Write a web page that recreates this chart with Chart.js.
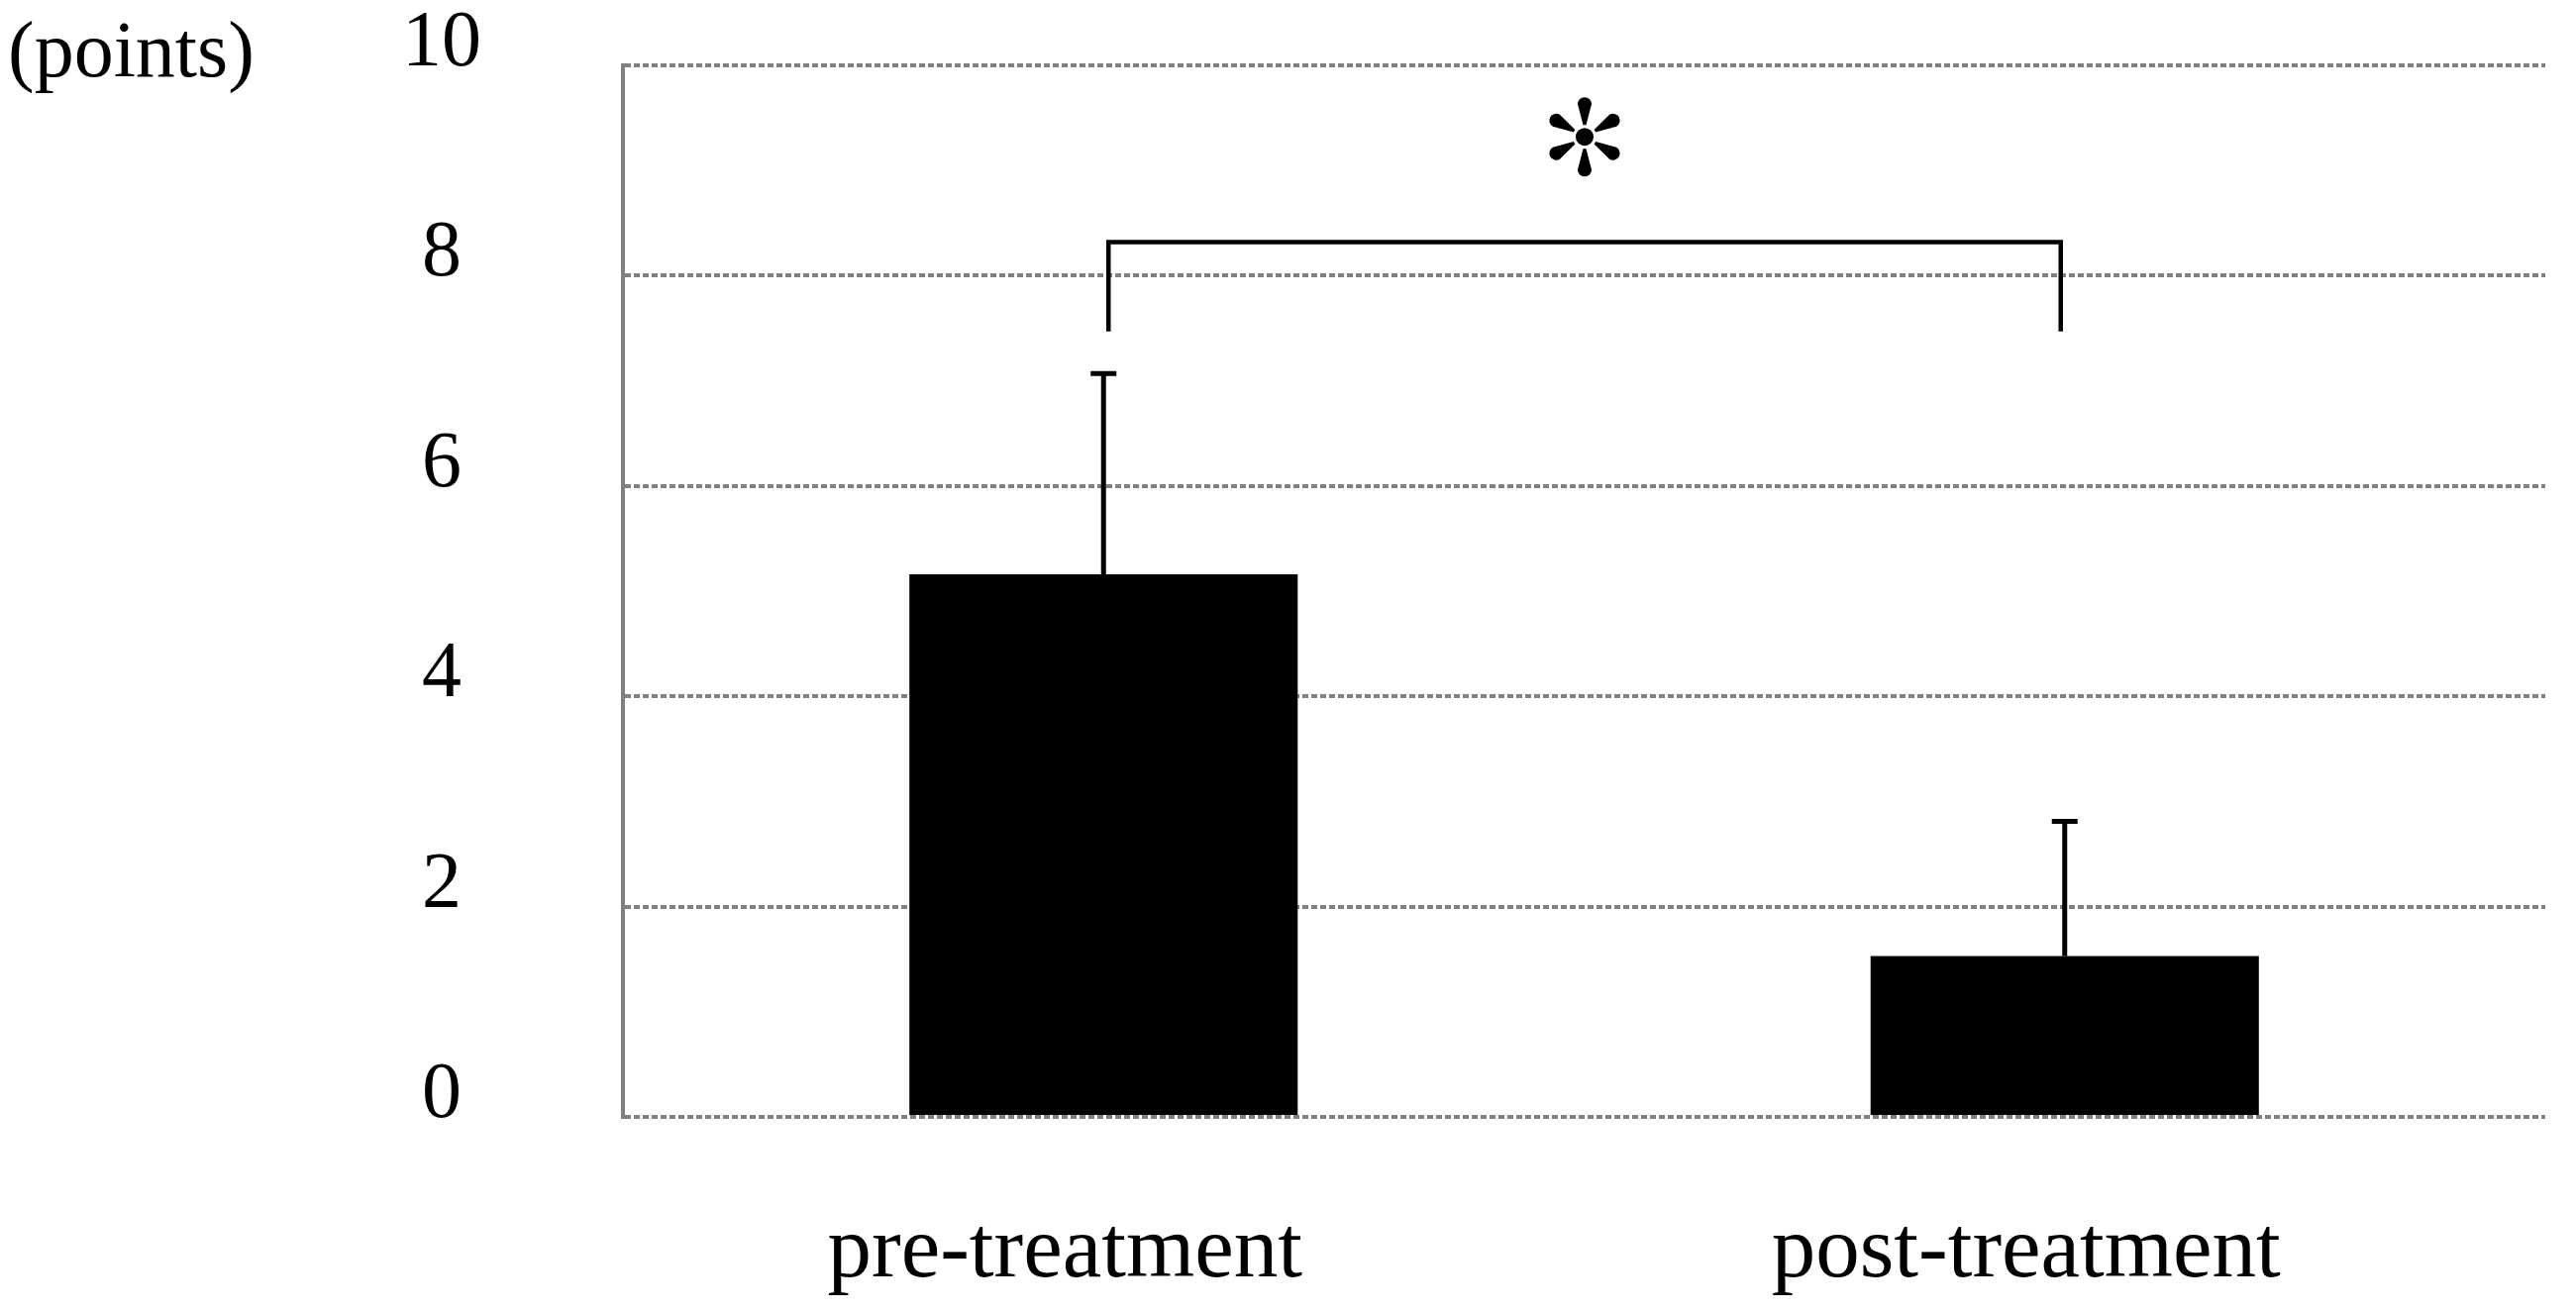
<!DOCTYPE html>
<html lang="en">
<head>
    <meta charset="UTF-8" />
    <title>pre / post treatment</title>
    <script src="https://cdn.jsdelivr.net/npm/chart.js"></script>
    <style>
        html, body { margin: 0; padding: 0; background: #fff; }
        #wrap { width: 2601px; height: 1325px; }
    </style>
</head>
<body>
    <div id="wrap"><canvas id="grafico" width="2601" height="1325"></canvas></div>

    <script>
        // data
        const categories = ['pre-treatment', 'post-treatment'];
        const means = [5.16, 1.53];
        const sds = [1.91, 1.28];
        const yTicks = [0, 2, 4, 6, 8, 10];
        const unitLabel = '(points)';
        const bracketTop = 8.32;
        const bracketLegEnd = 7.47;
        const starLevel = 9.32;

        const serif = '"Liberation Serif", "Times New Roman", serif';

        // six teardrop petals + dot, the significance mark
        function drawStar(ctx, cx, cy) {
            ctx.save();
            ctx.translate(cx, cy);
            ctx.fillStyle = '#000';
            for (let k = 0; k < 6; k++) {
                ctx.save();
                ctx.rotate(k * Math.PI / 3);
                ctx.beginPath();
                ctx.moveTo(-1.5, -12);
                ctx.lineTo(-7, -33);
                ctx.arc(0, -33, 7, Math.PI, 2 * Math.PI);
                ctx.lineTo(1.5, -12);
                ctx.closePath();
                ctx.fill();
                ctx.restore();
            }
            ctx.beginPath();
            ctx.arc(0, 0, 9, 0, 2 * Math.PI);
            ctx.fill();
            ctx.restore();
        }

        const extras = {
            id: 'extras',
            afterDatasetsDraw(chart) {
                const { ctx, scales: { y } } = chart;
                const bars = chart.getDatasetMeta(0).data;

                ctx.save();
                ctx.strokeStyle = '#000';
                ctx.lineCap = 'butt';

                // error bars (upper side only)
                ctx.lineWidth = 5;
                bars.forEach((bar, i) => {
                    const top = y.getPixelForValue(means[i] + sds[i]);
                    ctx.beginPath();
                    ctx.moveTo(bar.x, bar.y);
                    ctx.lineTo(bar.x, top);
                    ctx.moveTo(bar.x - 13, top);
                    ctx.lineTo(bar.x + 13, top);
                    ctx.stroke();
                });

                // bracket between the two bars
                const x1 = bars[0].x + 5;
                const x2 = bars[1].x - 4;
                const yt = y.getPixelForValue(bracketTop);
                const yb = y.getPixelForValue(bracketLegEnd);
                ctx.lineWidth = 4.5;
                ctx.lineJoin = 'miter';
                ctx.beginPath();
                ctx.moveTo(x1, yb);
                ctx.lineTo(x1, yt);
                ctx.lineTo(x2, yt);
                ctx.lineTo(x2, yb);
                ctx.stroke();

                drawStar(ctx, (x1 + x2) / 2, y.getPixelForValue(starLevel));

                // y tick labels, baseline sitting on the grid line
                ctx.fillStyle = '#000';
                ctx.font = '80px ' + serif;
                ctx.textAlign = 'center';
                ctx.textBaseline = 'alphabetic';
                const labelX = y.right - 183;
                y.ticks.forEach((t, i) => {
                    ctx.fillText(String(t.value), labelX, y.getPixelForTick(i));
                });

                // unit label top left
                ctx.textAlign = 'left';
                ctx.fillText(unitLabel, 8, y.getPixelForValue(10) + 11);
                ctx.restore();
            }
        };

        new Chart(document.getElementById('grafico'), {
            type: 'bar',
            data: {
                labels: categories,
                datasets: [{
                    data: means,
                    backgroundColor: '#000',
                    borderWidth: 0,
                    categoryPercentage: 1,
                    barPercentage: 0.404
                }]
            },
            options: {
                responsive: false,
                devicePixelRatio: 1,
                animation: false,
                layout: { padding: { top: 66, right: 31, left: 0, bottom: 0 } },
                plugins: {
                    legend: { display: false },
                    tooltip: { enabled: false }
                },
                scales: {
                    x: {
                        grid: { display: false, drawTicks: false },
                        border: { display: false },
                        ticks: {
                            color: '#000',
                            padding: 84,
                            labelOffset: -39,
                            font: { family: serif, size: 89 }
                        },
                        afterFit: s => { s.height = 197; }
                    },
                    y: {
                        min: 0,
                        max: 10,
                        afterBuildTicks: s => { s.ticks = yTicks.map(v => ({ value: v })); },
                        ticks: { display: false },
                        grid: { color: '#808080', lineWidth: 4, drawTicks: false },
                        border: { display: true, color: '#808080', width: 4, dash: [6, 3] },
                        afterFit: s => { s.width = 629; }
                    }
                }
            },
            plugins: [extras]
        });
    </script>
</body>
</html>
